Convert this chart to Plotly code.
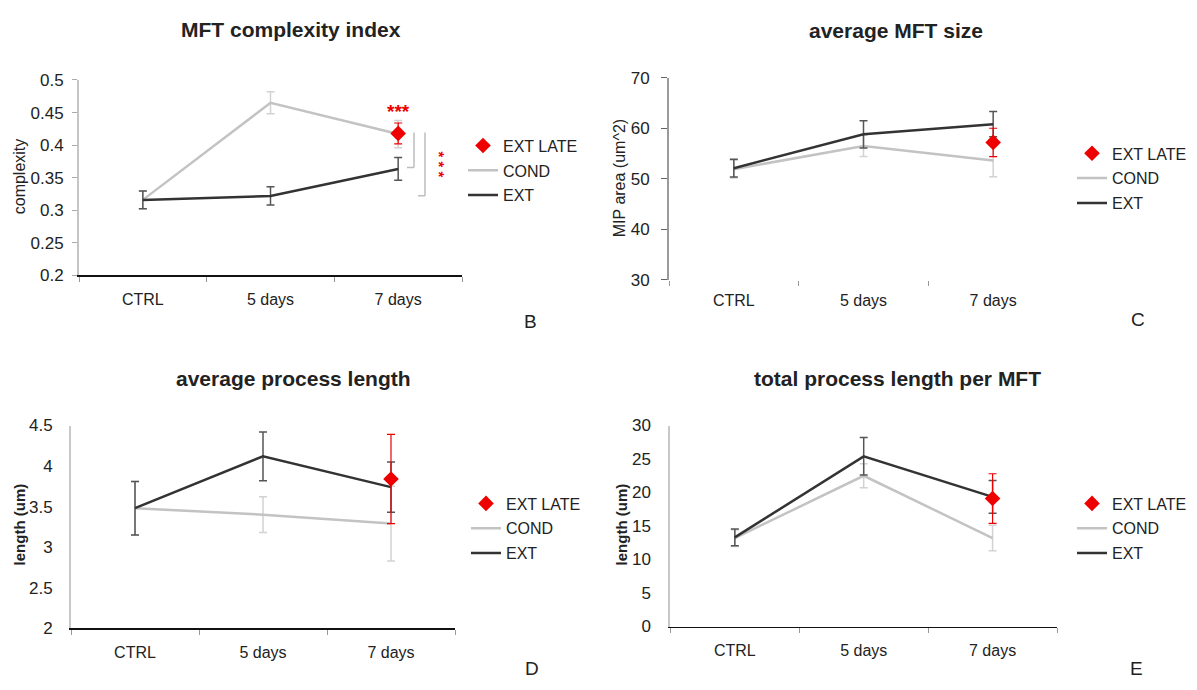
import plotly.graph_objects as go

W, H = 1197, 690
OX, OY = 0, 0

categories = ["CTRL", "5 days", "7 days"]
late_category = ["7 days"]

# ---- Panel B: MFT complexity index ----
b_cond = [0.316, 0.465, 0.417]
b_cond_err = [0.0135, 0.017, 0.021]
b_ext = [0.316, 0.322, 0.3635]
b_ext_err = [0.0135, 0.014, 0.0175]
b_late = [0.418]
b_late_err = [0.016]
b_yticks = [0.2, 0.25, 0.3, 0.35, 0.4, 0.45, 0.5]
b_yticktext = ["0.2", "0.25", "0.3", "0.35", "0.4", "0.45", "0.5"]

# ---- Panel C: average MFT size ----
c_cond = [51.9, 56.5, 53.6]
c_cond_err = [1.75, 2.1, 3.2]
c_ext = [52.1, 58.8, 60.8]
c_ext_err = [1.75, 2.7, 2.5]
c_late = [57.2]
c_late_err = [2.8]
c_yticks = [30, 40, 50, 60, 70]
c_yticktext = ["30", "40", "50", "60", "70"]

# ---- Panel D: average process length ----
d_cond = [3.48, 3.40, 3.29]
d_cond_err = [0.33, 0.22, 0.46]
d_ext = [3.48, 4.12, 3.74]
d_ext_err = [0.33, 0.30, 0.31]
d_late = [3.84]
d_late_err = [0.55]
d_yticks = [2, 2.5, 3, 3.5, 4, 4.5]
d_yticktext = ["2", "2.5", "3", "3.5", "4", "4.5"]

# ---- Panel E: total process length per MFT ----
e_cond = [13.2, 22.5, 13.2]
e_cond_err = [1.25, 1.8, 1.9]
e_ext = [13.3, 25.4, 19.35]
e_ext_err = [1.25, 2.8, 2.45]
e_late = [19.1]
e_late_err = [3.7]
e_yticks = [0, 5, 10, 15, 20, 25, 30]
e_yticktext = ["0", "5", "10", "15", "20", "25", "30"]

titles = ["MFT complexity index", "average MFT size",
          "average process length", "total process length per MFT"]
ytitles = ["complexity", "MIP area (um^2)", "length (um)", "length (um)"]
letters = ["B", "C", "D", "E"]
series_names = ["COND", "EXT", "EXT LATE"]

FONT = "Liberation Sans, Arial, sans-serif"
TXT = "#222222"
COND_C = "#c3c3c3"
COND_ERR_C = "#d2d2d2"
EXT_C = "#333333"
EXT_ERR_C = "#555555"
RED = "#ee0000"


def px(x):
    return (x - OX) / W


def py(y):
    return 1 - (y - OY) / H


panels = [
    dict(data=(b_cond, b_cond_err, b_ext, b_ext_err, b_late, b_late_err),
         yr=(0.2, 0.5), yt=(b_yticks, b_yticktext),
         xd=(79, 462), yd=(73, 274), yline="#c4c4c4", xline=True,
         yticks=dict(ticks="outside", ticklen=5, tickcolor="#aaaaaa"), ystand=5,
         leg=(463, 123), title=(291, 21), ytitle=(19, 172, False), letter=(530, 321)),
    dict(data=(c_cond, c_cond_err, c_ext, c_ext_err, c_late, c_late_err),
         yr=(30, 70), yt=(c_yticks, c_yticktext),
         xd=(669, 1058), yd=(70.7, 278.5), yline="#9a9a9a", xline=False,
         yticks=dict(ticks="outside", ticklen=6, tickcolor="#666666"), ystand=8,
         leg=(1072, 131), title=(896, 22), ytitle=(619, 174, False), letter=(1138, 319)),
    dict(data=(d_cond, d_cond_err, d_ext, d_ext_err, d_late, d_late_err),
         yr=(2, 4.5), yt=(d_yticks, d_yticktext),
         xd=(71, 455), yd=(428.3, 636.7), yline="#c8c8c8", xline=True,
         yticks=dict(ticks=""), ystand=13,
         leg=(466, 491), title=(293, 380), ytitle=(19, 530, True), letter=(532, 678)),
    dict(data=(e_cond, e_cond_err, e_ext, e_ext_err, e_late, e_late_err),
         yr=(0, 30), yt=(e_yticks, e_yticktext),
         xd=(670.4, 1057), yd=(428.3, 635), yline="#c8c8c8", xline=True,
         yticks=dict(ticks=""), ystand=14,
         leg=(1072, 491), title=(897, 380), ytitle=(621, 530, True), letter=(1136, 678)),
]

fig = go.Figure()
layout = dict(
    width=W, height=H, autosize=False,
    margin=dict(l=0, r=0, t=0, b=0),
    paper_bgcolor="white", plot_bgcolor="white",
    font=dict(family=FONT, color=TXT, size=16),
    hovermode=False,
    annotations=[], shapes=[],
)

for i, p in enumerate(panels):
    n = "" if i == 0 else str(i + 1)
    xa, ya = "x" + n, "y" + n
    legname = "legend" + n
    cond, cond_err, ext, ext_err, late, late_err = p["data"]

    fig.add_trace(go.Scatter(
        x=categories, y=cond, mode="lines", name=series_names[0],
        line=dict(color=COND_C, width=2.5),
        error_y=dict(type="data", array=cond_err, color=COND_ERR_C, thickness=1.5, width=4),
        xaxis=xa, yaxis=ya, legend=legname, legendrank=2, legendgroup="c" + n))
    fig.add_trace(go.Scatter(
        x=categories, y=ext, mode="lines", name=series_names[1],
        line=dict(color=EXT_C, width=2.5),
        error_y=dict(type="data", array=ext_err, color=EXT_ERR_C, thickness=1.5, width=4),
        xaxis=xa, yaxis=ya, legend=legname, legendrank=3, legendgroup="e" + n))
    fig.add_trace(go.Scatter(
        x=late_category, y=late, mode="markers", name=series_names[2],
        marker=dict(symbol="diamond", size=12, color=RED),
        error_y=dict(type="data", array=late_err, color=RED, thickness=1.2, width=4),
        xaxis=xa, yaxis=ya, legend=legname, legendrank=1, legendgroup="l" + n))

    layout["xaxis" + n] = dict(
        domain=[px(p["xd"][0]), px(p["xd"][1])], anchor=ya,
        type="category", categoryorder="array", categoryarray=categories,
        range=[-0.5, 2.5], tickson="boundaries", ticks="outside", ticklen=5,
        tickcolor="#999999", tickwidth=1,
        showline=p["xline"], linecolor="#111111", linewidth=1.5,
        showgrid=False, zeroline=False, fixedrange=True,
        tickfont=dict(size=16, color=TXT), ticklabelstandoff=9,
    )
    layout["yaxis" + n] = dict(
        domain=[py(p["yd"][1]), py(p["yd"][0])], anchor=xa,
        range=list(p["yr"]), tickvals=p["yt"][0], ticktext=p["yt"][1],
        showline=True, linecolor=p["yline"], linewidth=2,
        showgrid=False, zeroline=False, fixedrange=True,
        tickfont=dict(size=17, color=TXT), ticklabelstandoff=p["ystand"],
        **p["yticks"],
    )
    layout[legname] = dict(
        x=px(p["leg"][0]), y=py(p["leg"][1]), xanchor="left", yanchor="top",
        font=dict(size=16, color=TXT), bgcolor="rgba(0,0,0,0)",
        traceorder="grouped", tracegroupgap=1, itemwidth=30,
    )

    tx, ty = p["title"]
    layout["annotations"].append(dict(
        x=px(tx), y=py(ty), xref="paper", yref="paper", showarrow=False,
        text="<b>" + titles[i] + "</b>", font=dict(size=21, color=TXT),
        xanchor="center", yanchor="middle"))
    ax_, ay_, bold = p["ytitle"]
    layout["annotations"].append(dict(
        x=px(ax_), y=py(ay_), xref="paper", yref="paper", showarrow=False,
        text=("<b>" + ytitles[i] + "</b>") if bold else ytitles[i],
        font=dict(size=15 if bold else 16, color=TXT), textangle=-90,
        xanchor="center", yanchor="middle"))
    lx, ly = p["letter"]
    layout["annotations"].append(dict(
        x=px(lx), y=py(ly), xref="paper", yref="paper", showarrow=False,
        text=letters[i], font=dict(size=19, color=TXT),
        xanchor="center", yanchor="middle"))

# significance marks on panel B
brackets = [
    dict(xv=2.124, xf=2.069, y0=0.4194, y1=0.3657),
    dict(xv=2.210, xf=2.156, y0=0.4194, y1=0.3224),
]
for b in brackets:
    layout["shapes"].append(dict(type="line", xref="x", yref="y",
                                 x0=b["xv"], x1=b["xv"], y0=b["y0"], y1=b["y1"],
                                 line=dict(color="#bdbdbd", width=1.5)))
    layout["shapes"].append(dict(type="line", xref="x", yref="y",
                                 x0=b["xf"], x1=b["xv"], y0=b["y1"], y1=b["y1"],
                                 line=dict(color="#bdbdbd", width=1.5)))

layout["annotations"].append(dict(
    x=2.0, y=0.457, xref="x", yref="y", showarrow=False, text="<b>***</b>",
    font=dict(size=19, color=RED), xanchor="center", yanchor="middle", yshift=-3))
layout["annotations"].append(dict(
    x=2.297, y=0.370, xref="x", yref="y", showarrow=False, text="<b>* * *</b>",
    font=dict(size=15, color=RED), textangle=90, xanchor="center", yanchor="middle",
    xshift=3))

fig.update_layout(**layout)

# remove the default page margin so the 1197x690 figure fills the window exactly
page_fix = ("document.documentElement.style.margin='0';"
            "document.body.style.margin='0';document.body.style.padding='0';"
            "document.documentElement.style.overflow='hidden';"
            "document.body.style.overflow='hidden';")
fig.write_html("out.html", post_script=page_fix,
               config={"displayModeBar": False, "staticPlot": True})
